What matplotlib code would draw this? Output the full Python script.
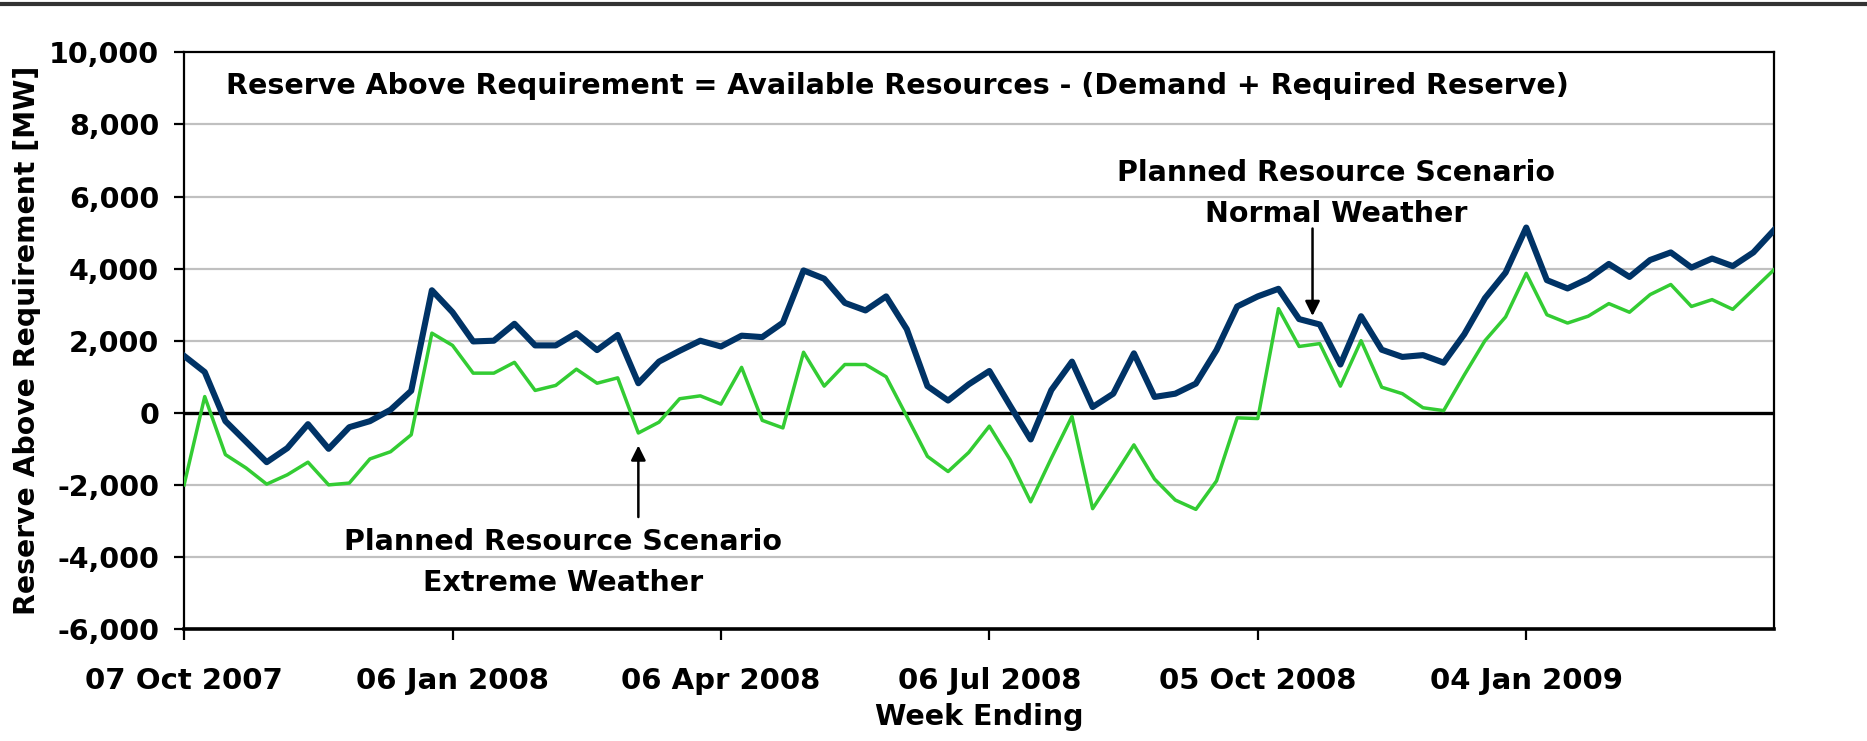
import numpy as np
import pandas as pd
import matplotlib
matplotlib.use('Agg')
import matplotlib.pyplot as plt
import matplotlib.dates as mdates
from matplotlib.lines import Line2D

# Datos semanales (MW)
semanas = pd.date_range('2007-10-07', periods=78, freq='7D')

normal = [1580, 1130, -230, -800, -1370, -980, -316, -1000, -400, -232,
          84, 610, 3400, 2790, 1980, 2000, 2470, 1870, 1870, 2210,
          1740, 2160, 820, 1420, 1720, 2000, 1840, 2140, 2100, 2500,
          3950, 3720, 3050, 2840, 3230, 2320, 740, 340, 790, 1160,
          200, -740, 630, 1420, 160, 530, 1650, 440, 530, 810,
          1740, 2950, 3230, 3440, 2600, 2450, 1340, 2680, 1750, 1550,
          1600, 1390, 2180, 3180, 3890, 5140, 3680, 3450, 3720, 4130,
          3770, 4240, 4450, 4030, 4280, 4070, 4450, 5070]

extreme = [-2000, 450, -1160, -1530, -1980, -1720, -1370, -2000, -1950, -1280,
           -1080, -610, 2210, 1870, 1100, 1100, 1400, 620, 760, 1210,
           820, 970, -560, -260, 390, 470, 240, 1260, -210, -420,
           1680, 740, 1340, 1340, 1000, -100, -1210, -1630, -1100, -370,
           -1300, -2470, -1260, -100, -2660, -1790, -890, -1840, -2420, -2680,
           -1890, -140, -160, 2890, 1840, 1920, 740, 2000, 710, 530,
           140, 60, 1050, 2000, 2660, 3870, 2720, 2490, 2680, 3030,
           2790, 3280, 3560, 2950, 3140, 2870, 3420, 3970]

ticks_x = pd.to_datetime(['2007-10-07', '2008-01-06', '2008-04-06',
                          '2008-07-06', '2008-10-05', '2009-01-04'])
ticks_y = np.arange(-6000, 10001, 2000)

fig = plt.figure(figsize=(18.67, 7.41), dpi=100)
ax = fig.add_axes([0.0986, 0.1511, 0.8516, 0.7782])

# Lineas de cuadricula
for v in ticks_y:
    if v not in (0, -6000, 10000):
        ax.axhline(v, color='#c0c0c0', lw=1.6, zorder=1)
ax.axhline(0, color='black', lw=2.4, zorder=2)

ax.plot(semanas, extreme, color='#33cc33', lw=2.5, zorder=3)
ax.plot(semanas, normal, color='#003366', lw=4.4, zorder=4)

ax.set_xlim(semanas[0], semanas[-1])
ax.set_ylim(-6000, 10000)
ax.set_yticks(ticks_y)
ax.set_yticklabels([f'{v:,}' for v in ticks_y])
ax.set_xticks(ticks_x)
ax.xaxis.set_major_formatter(mdates.DateFormatter('%d %b %Y'))

for s in ax.spines.values():
    s.set_linewidth(1.6)
ax.spines['bottom'].set_linewidth(2.6)

ax.tick_params(axis='y', direction='out', length=7, width=1.6, pad=11, labelsize=20.5)
ax.tick_params(axis='x', direction='out', length=8, width=1.6, pad=19, labelsize=21)
for lbl in ax.get_xticklabels() + ax.get_yticklabels():
    lbl.set_fontweight('bold')

ax.set_ylabel('Reserve Above Requirement [MW]', fontsize=20.3, fontweight='bold', labelpad=6)
ax.set_xlabel('Week Ending', fontsize=20.5, fontweight='bold', labelpad=6)

ax.text(0.0264, 0.9417, 'Reserve Above Requirement = Available Resources - (Demand + Required Reserve)',
        transform=ax.transAxes, fontsize=20.5, fontweight='bold', ha='left', va='center')

ax.text(0.7245, 0.755, 'Planned Resource Scenario\nNormal Weather', transform=ax.transAxes,
        fontsize=20.5, fontweight='bold', ha='center', va='center', linespacing=1.6)
ax.annotate('', xy=(semanas[0] + pd.Timedelta(weeks=54.65), 2610),
            xytext=(semanas[0] + pd.Timedelta(weeks=54.65), 5190),
            arrowprops=dict(arrowstyle='-|>', color='black', lw=1.8, mutation_scale=22))

ax.text(0.2384, 0.1153, 'Planned Resource Scenario\nExtreme Weather', transform=ax.transAxes,
        fontsize=20.5, fontweight='bold', ha='center', va='center', linespacing=1.6)
ax.annotate('', xy=(semanas[0] + pd.Timedelta(weeks=22), -830),
            xytext=(semanas[0] + pd.Timedelta(weeks=22), -2970),
            arrowprops=dict(arrowstyle='-|>', color='black', lw=1.8, mutation_scale=22))

# Linea superior del marco
fig.add_artist(Line2D([0, 1], [1 - 4 / 741, 1 - 4 / 741], transform=fig.transFigure,
                      color='#333333', lw=3))

fig.savefig('out.png', dpi=100)
